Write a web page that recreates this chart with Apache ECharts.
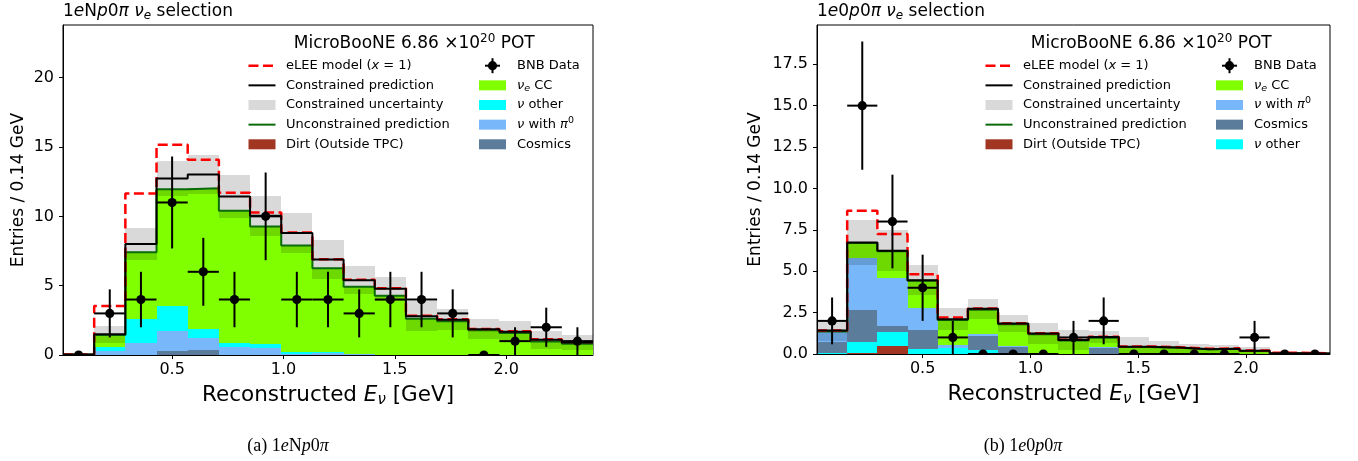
<!DOCTYPE html>
<html>
<head>
<meta charset="utf-8">
<script src="https://cdn.jsdelivr.net/npm/echarts@6.0.0/dist/echarts.min.js"></script>
<style>
html,body{margin:0;padding:0;background:#ffffff;}
#chart{width:1358px;height:461px;}
</style>
</head>
<body>
<div id="chart"></div>
<script>
// ---------------- data ----------------
const binEdges = [0.01, 0.15, 0.29, 0.43, 0.57, 0.71, 0.85, 0.99, 1.13, 1.27, 1.41, 1.55, 1.69, 1.83, 1.97, 2.11, 2.25, 2.39];
const xTickValues = [0.5, 1.0, 1.5, 2.0];

// (a) 1eNp0pi selection
const npDirt        = [0, 0, 0, 0, 0, 0, 0, 0, 0, 0, 0, 0, 0, 0, 0, 0, 0];
const npCosmics     = [0, 0, 0, 0.32, 0.36, 0, 0, 0, 0, 0, 0, 0, 0, 0, 0, 0, 0];
const npPi0         = [0, 0.31, 0.84, 1.42, 0.89, 0.58, 0.48, 0.06, 0.18, 0.04, 0.03, 0, 0, 0, 0, 0, 0];
const npOther       = [0, 0.29, 1.76, 1.80, 0.60, 0.26, 0.31, 0.18, 0.03, 0.06, 0, 0, 0, 0, 0, 0, 0];
const npNueCC       = [0.03, 0.85, 4.81, 8.42, 10.18, 9.56, 8.48, 7.65, 6.05, 4.83, 4.25, 2.62, 2.43, 1.78, 1.58, 0.98, 0.82];
const npConstrained = [0.03, 1.50, 8.00, 12.73, 13.02, 11.43, 10.04, 8.80, 6.88, 5.40, 4.78, 2.80, 2.55, 1.85, 1.68, 1.10, 0.90];
const npUncert      = [0, 0.60, 1.17, 1.28, 1.38, 1.57, 1.45, 1.43, 1.42, 1.00, 0.86, 1.08, 0.78, 0.72, 0.75, 0.64, 0.57];
const npELEE        = [0.03, 3.54, 11.65, 15.16, 14.08, 11.70, 10.28, 8.83, 6.91, 5.43, 4.81, 2.83, 2.58, 1.88, 1.71, 1.13, 0.93];
const npData        = [0, 3, 4, 11, 6, 4, 10, 4, 4, 3, 4, 4, 3, 0, 1, 2, 1];
const npYTicks      = [0, 5, 10, 15, 20];

// (b) 1e0p0pi selection
const zpDirt        = [0, 0.04, 0.50, 0.03, 0, 0, 0, 0, 0, 0, 0, 0, 0, 0, 0, 0, 0];
const zpOther       = [0.09, 0.70, 0.80, 0.30, 0.35, 0.25, 0.05, 0, 0, 0, 0, 0, 0, 0, 0, 0, 0];
const zpCosmics     = [0.65, 1.93, 0.40, 1.13, 0, 0.83, 0.40, 0, 0, 0.35, 0, 0, 0, 0, 0, 0, 0];
const zpPi0         = [0.62, 3.12, 2.88, 1.29, 0.20, 0.12, 0.05, 0, 0, 0.05, 0, 0, 0, 0, 0, 0, 0];
const zpNueCC       = [0, 0.91, 1.62, 1.67, 1.50, 1.48, 1.30, 1.20, 0.82, 0.58, 0.43, 0.38, 0.28, 0.31, 0.18, 0.04, 0.03];
const zpConstrained = [1.42, 6.73, 6.23, 4.46, 2.10, 2.73, 1.84, 1.24, 0.84, 1.02, 0.44, 0.39, 0.29, 0.32, 0.19, 0.05, 0.03];
const zpUncert      = [0.65, 1.35, 1.24, 0.90, 0.65, 0.62, 0.53, 0.63, 0.60, 0.38, 0.56, 0.41, 0.31, 0.23, 0.24, 0.10, 0.06];
const zpELEE        = [1.42, 8.65, 7.24, 4.82, 2.20, 2.75, 1.86, 1.26, 0.86, 1.04, 0.46, 0.41, 0.31, 0.34, 0.21, 0.07, 0.05];
const zpData        = [2, 15, 8, 4, 1, 0, 0, 0, 1, 2, 0, 0, 0, 0, 1, 0, 0];
const zpYTicks      = [0, 2.5, 5, 7.5, 10, 12.5, 15, 17.5];

// text
const legendText = {
  elee: 'eLEE model ({i|x} = 1)',
  cons: 'Constrained prediction',
  band: 'Constrained uncertainty',
  unc: 'Unconstrained prediction',
  dirt: 'Dirt (Outside TPC)',
  data: 'BNB Data',
  nue: '{i|ν}{sub|e} CC',
  other: '{i|ν} other',
  pi0: '{i|ν} with {i|π}{sup|0}',
  cosmics: 'Cosmics'
};
const potText = 'MicroBooNE 6.86 ×10{sup|20} POT';
const xAxisName = 'Reconstructed {i|E}{sub|ν} [GeV]';
const yAxisName = 'Entries / 0.14 GeV';

// ---------------- styling / layout ----------------
const FONT = 'DejaVu Sans';
const SERIF = 'Liberation Serif';
const COLORS = {
  nue: '#80ff00', other: '#00ffff', pi0: '#78b8fa', cosmics: '#5b7d9b', dirt: '#a13623',
  band: 'rgba(0,0,0,0.15)', unc: '#0b6b0b', elee: '#ff0000', cons: '#000000'
};

const panels = [
  {
    stack: [['dirt', npDirt], ['cosmics', npCosmics], ['pi0', npPi0], ['other', npOther], ['nue', npNueCC]],
    cons: npConstrained, unc: npUncert, elee: npELEE, data: npData, yTicks: npYTicks,
    yMax: 23.8, yInterval: 5, yDec: 0,
    grid: {left: 63, top: 25, width: 530, height: 330}, yNameGap: 36,
    legendRight: ['data', 'nue', 'other', 'pi0', 'cosmics'],
    title: '1{i|e}N{i|p}0{i|π} {i|ν}{s|e} selection',
    caption: '(a) 1{i|e}N{i|p}0{i|π}', captionX: 288
  },
  {
    stack: [['dirt', zpDirt], ['other', zpOther], ['cosmics', zpCosmics], ['pi0', zpPi0], ['nue', zpNueCC]],
    cons: zpConstrained, unc: zpUncert, elee: zpELEE, data: zpData, yTicks: zpYTicks,
    yMax: 19.87, yInterval: 2.5, yDec: 1,
    grid: {left: 817, top: 25, width: 513, height: 329}, yNameGap: 53,
    legendRight: ['data', 'nue', 'pi0', 'cosmics', 'other'],
    title: '1{i|e}0{i|p}0{i|π} {i|ν}{s|e} selection',
    caption: '(b) 1{i|e}0{i|p}0{i|π}', captionX: 1023
  }
];

// ---------------- series builders ----------------
function fillSeries(g, lo, hi, color, z) {
  const data = [];
  lo.forEach((l, i) => { if (hi[i] - l > 1e-9) data.push([binEdges[i], binEdges[i + 1], l, hi[i]]); });
  return {
    type: 'custom', xAxisIndex: g, yAxisIndex: g, z: z, silent: true, clip: true, data: data,
    renderItem: function (params, api) {
      const a = api.coord([api.value(0), api.value(3)]);
      const b = api.coord([api.value(1), api.value(2)]);
      const x0 = Math.round(a[0]), x1 = Math.round(b[0]);
      const y0 = Math.round(a[1]), y1 = Math.round(b[1]);
      return {type: 'rect', shape: {x: x0, y: y0, width: x1 - x0, height: y1 - y0}, style: {fill: color}};
    }
  };
}
function stepData(vals) {
  const d = vals.map((v, i) => [binEdges[i], v]);
  d.push([binEdges[binEdges.length - 1], vals[vals.length - 1]]);
  return d;
}
function stepLine(g, vals, color, width, type, z) {
  return {
    type: 'line', xAxisIndex: g, yAxisIndex: g, step: 'end', data: stepData(vals),
    symbol: 'none', showSymbol: false, silent: true, clip: true, z: z,
    lineStyle: {color: color, width: width, type: type}
  };
}
function dataSeries(g, counts, z) {
  const data = counts.map((n, i) => [(binEdges[i] + binEdges[i + 1]) / 2, n, binEdges[i], binEdges[i + 1], Math.sqrt(n)]);
  return {
    type: 'custom', xAxisIndex: g, yAxisIndex: g, z: z, silent: true, clip: true, data: data,
    renderItem: function (params, api) {
      const x = api.value(0), y = api.value(1), e = api.value(4);
      const c = api.coord([x, y]);
      const l = api.coord([api.value(2), y]);
      const r = api.coord([api.value(3), y]);
      const children = [
        {type: 'line', shape: {x1: l[0], y1: c[1], x2: r[0], y2: c[1]}, style: {stroke: '#000', lineWidth: 2}}
      ];
      if (e > 0) {
        const t = api.coord([x, y + e]);
        const b = api.coord([x, y - e]);
        children.push({type: 'line', shape: {x1: c[0], y1: t[1], x2: c[0], y2: b[1]}, style: {stroke: '#000', lineWidth: 2}});
      }
      children.push({type: 'circle', shape: {cx: c[0], cy: c[1], r: 4.6}, style: {fill: '#000'}});
      return {type: 'group', children: children};
    }
  };
}

const series = [];
panels.forEach((p, g) => {
  let cum = new Array(binEdges.length - 1).fill(0);
  p.stack.forEach(([key, vals]) => {
    const lo = cum.slice();
    const hi = cum.map((c, i) => c + vals[i]);
    cum = hi;
    series.push(fillSeries(g, lo, hi, COLORS[key], 2));
  });
  series.push(fillSeries(g, p.cons.map((c, i) => c - p.unc[i]), p.cons.map((c, i) => c + p.unc[i]), COLORS.band, 3));
  series.push(stepLine(g, cum, COLORS.unc, 2, 'solid', 4));
  series.push(stepLine(g, p.elee, COLORS.elee, 2.5, [10, 4.5], 5));
  series.push(stepLine(g, p.cons, COLORS.cons, 2, 'solid', 6));
  series.push(dataSeries(g, p.data, 7));
});

// ---------------- axes ----------------
const richAxisName = {
  i: {fontStyle: 'italic', fontSize: 21.5, fontFamily: FONT, color: '#000'},
  sub: {fontStyle: 'italic', fontSize: 15, fontFamily: FONT, color: '#000', padding: [10, 0, 0, 0]}
};
const xAxes = panels.map((p, g) => ({
  type: 'value', gridIndex: g, min: binEdges[0], max: binEdges[binEdges.length - 1], z: 10,
  splitLine: {show: false},
  axisLine: {show: true, onZero: false, lineStyle: {color: '#000', width: 1}},
  axisTick: {show: true, length: 4, lineStyle: {color: '#000', width: 1}, customValues: xTickValues},
  axisLabel: {
    color: '#000', fontSize: 16, fontFamily: FONT, margin: 7, customValues: xTickValues,
    formatter: v => (Math.abs(v * 2 - Math.round(v * 2)) < 1e-6 ? v.toFixed(1) : '')
  },
  name: xAxisName, nameLocation: 'middle', nameGap: 28,
  nameTextStyle: {fontSize: 21.5, fontFamily: FONT, color: '#000', rich: richAxisName}
}));
const yAxes = panels.map((p, g) => ({
  type: 'value', gridIndex: g, min: 0, max: p.yMax, interval: p.yInterval, z: 10,
  splitLine: {show: false},
  axisLine: {show: true, onZero: false, lineStyle: {color: '#000', width: 1}},
  axisTick: {show: true, length: 4, lineStyle: {color: '#000', width: 1}, customValues: p.yTicks},
  axisLabel: {
    color: '#000', fontSize: 16, fontFamily: FONT, margin: 9, customValues: p.yTicks,
    formatter: v => (Math.abs(v / p.yInterval - Math.round(v / p.yInterval)) < 1e-6 && v <= p.yTicks[p.yTicks.length - 1] + 1e-6 ? v.toFixed(p.yDec) : '')
  },
  name: yAxisName, nameLocation: 'middle', nameRotate: 90, nameGap: p.yNameGap,
  nameTextStyle: {fontSize: 17, fontFamily: FONT, color: '#000'}
}));

// ---------------- graphics: titles, legends, captions ----------------
const legRich = {
  i: {fontStyle: 'italic', fontSize: 13, fontFamily: FONT, fill: '#000'},
  sub: {fontStyle: 'italic', fontSize: 9.5, fontFamily: FONT, fill: '#000', padding: [7, 0, 0, 0]},
  sup: {fontSize: 9.5, fontFamily: FONT, fill: '#000', padding: [0, 0, 8, 0]}
};
function legendSymbol(k, x0, x1, y) {
  const xc = (x0 + x1) / 2;
  switch (k) {
    case 'elee': return [{type: 'line', shape: {x1: x0, y1: y, x2: x1, y2: y}, style: {stroke: COLORS.elee, lineWidth: 2.5, lineDash: [10, 4.5]}}];
    case 'cons': return [{type: 'line', shape: {x1: x0, y1: y, x2: x1, y2: y}, style: {stroke: COLORS.cons, lineWidth: 2}}];
    case 'unc': return [{type: 'line', shape: {x1: x0, y1: y, x2: x1, y2: y}, style: {stroke: COLORS.unc, lineWidth: 2}}];
    case 'data': return [
      {type: 'line', shape: {x1: xc - 7.5, y1: y, x2: xc + 7.5, y2: y}, style: {stroke: '#000', lineWidth: 2}},
      {type: 'line', shape: {x1: xc, y1: y - 7.5, x2: xc, y2: y + 7.5}, style: {stroke: '#000', lineWidth: 2}},
      {type: 'circle', shape: {cx: xc, cy: y, r: 4.6}, style: {fill: '#000'}}
    ];
    default: return [{type: 'rect', shape: {x: x0, y: y - 5, width: x1 - x0, height: 10}, style: {fill: COLORS[k]}}];
  }
}
function legendLabel(k, x, y) {
  return {type: 'text', x: x, y: y, style: {text: legendText[k], fontSize: 13, fontFamily: FONT, fill: '#000', align: 'left', verticalAlign: 'middle', rich: legRich}};
}
const graphic = [];
panels.forEach(p => {
  const gl = p.grid.left, xr = p.grid.left + p.grid.width;
  graphic.push({type: 'text', x: gl, y: 11.5, style: {
    text: p.title, fontSize: 17, fontFamily: FONT, fill: '#000', align: 'left', verticalAlign: 'middle',
    rich: {i: {fontStyle: 'italic', fontSize: 17, fontFamily: FONT, fill: '#000'},
           s: {fontStyle: 'italic', fontSize: 12, fontFamily: FONT, fill: '#000', padding: [8, 0, 0, 0]}}
  }});
  graphic.push({type: 'text', x: xr - 178.7, y: 43.3, style: {
    text: potText, fontSize: 17, fontFamily: FONT, fill: '#000', align: 'center', verticalAlign: 'middle',
    rich: {sup: {fontSize: 12, fontFamily: FONT, fill: '#000', padding: [0, 0, 9, 0]}}
  }});
  const rowY = i => 65.7 + i * 19.65;
  ['elee', 'cons', 'band', 'unc', 'dirt'].forEach((k, i) => {
    legendSymbol(k, xr - 344.5, xr - 317.5, rowY(i)).forEach(e => graphic.push(e));
    graphic.push(legendLabel(k, xr - 307, rowY(i)));
  });
  p.legendRight.forEach((k, i) => {
    legendSymbol(k, xr - 114, xr - 87, rowY(i)).forEach(e => graphic.push(e));
    graphic.push(legendLabel(k, xr - 76, rowY(i)));
  });
  graphic.push({type: 'text', x: p.captionX, y: 446, style: {
    text: p.caption, fontSize: 18, fontFamily: SERIF, fill: '#000', align: 'center', verticalAlign: 'middle',
    rich: {i: {fontStyle: 'italic', fontSize: 18, fontFamily: SERIF, fill: '#000'}}
  }});
});

const chart = echarts.init(document.getElementById('chart'), null, {renderer: 'canvas', devicePixelRatio: 1});
chart.setOption({
  animation: false,
  backgroundColor: '#ffffff',
  textStyle: {fontFamily: FONT},
  grid: panels.map(p => Object.assign({show: true, borderColor: '#000', borderWidth: 1, backgroundColor: 'transparent'}, p.grid)),
  xAxis: xAxes,
  yAxis: yAxes,
  series: series,
  graphic: graphic
});
</script>
</body>
</html>
